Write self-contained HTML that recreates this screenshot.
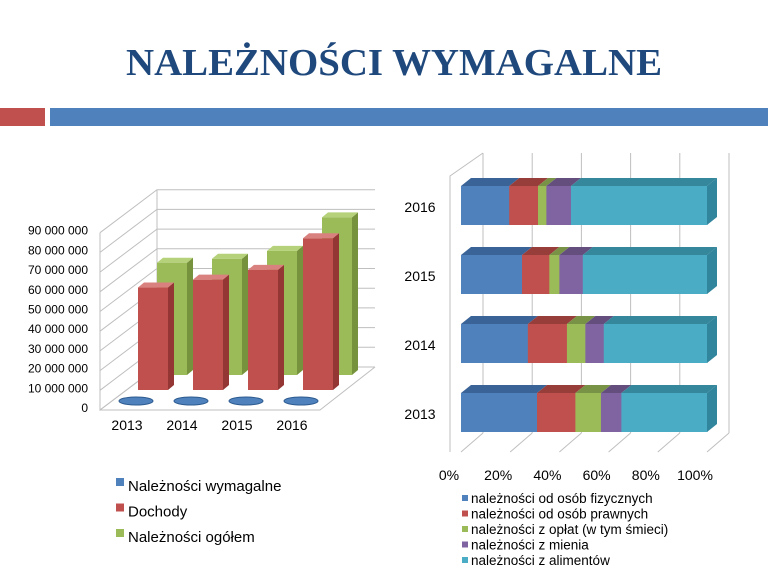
<!DOCTYPE html>
<html><head><meta charset="utf-8"><style>
body{margin:0;background:#fff}
svg{display:block;font-family:"Liberation Sans",sans-serif}
</style></head><body>
<svg id="s" width="768" height="576" viewBox="0 0 768 576">
<text x="394" y="75" text-anchor="middle" font-family="Liberation Serif,serif" font-weight="bold" font-size="38" fill="#1F497D" textLength="536" lengthAdjust="spacingAndGlyphs">NALEŻNOŚCI WYMAGALNE</text>
<rect x="0" y="108" width="45" height="18" fill="#C0504D"/>
<rect x="50" y="108" width="718" height="18" fill="#4F81BD"/>
<g id="left"></g>
<g id="right"></g>
</svg>
<script>
const years=["2013","2014","2015","2016"];
const wymagalne=[500000,500000,500000,500000];
const dochody=[52000000,56000000,61000000,77000000];
const ogolem=[57000000,59000000,63000000,80000000];
const yTicks=["0","10 000 000","20 000 000","30 000 000","40 000 000","50 000 000","60 000 000","70 000 000","80 000 000","90 000 000"];
const legendLeft=["Należności wymagalne","Dochody","Należności ogółem"];

const rYears=["2013","2014","2015","2016"];
const fizyczne=[30.9,27.2,24.8,19.6];
const prawne=[15.6,15.9,11.1,11.7];
const oplaty=[10.4,7.5,4.1,3.4];
const mienie=[8.3,7.5,9.5,10.0];
const alimenty=[34.8,42.0,50.5,55.3];
const xTicks=["0%","20%","40%","60%","80%","100%"];
const legendRight=["należności od osób fizycznych","należności od osób prawnych","należności z opłat (w tym śmieci)","należności z mienia","należności z alimentów"];

const NS="http://www.w3.org/2000/svg";
function el(p,t,a){const e=document.createElementNS(NS,t);for(const k in a)e.setAttribute(k,a[k]);p.appendChild(e);return e;}
const L=document.getElementById('left'),R=document.getElementById('right');
// left axes
const pxPer=19.7/10000000;
function ly(v,base){return base-v*pxPer;}
let e;
// walls
for(let i=0;i<10;i++){const y=367-i*19.7;
 e=el(L,'polyline',{points:`100,${y+43} 157,${y} 375,${y}`,fill:'none',stroke:'#BFBFBF','stroke-width':1});
 
 e=el(L,'text',{x:88,y:ly(i*10000000,408)+4,'text-anchor':'end','font-size':12,fill:'#000'});e.textContent=yTicks[i];
 }
e=el(L,'polyline',{points:`100,${367-9*19.7+43} 100,410 157,367 157,${367-9*19.7}`,fill:'none',stroke:'#BFBFBF'});

e=el(L,'polyline',{points:'100,410 320,410 375,367',fill:'none',stroke:'#BFBFBF'});

function col(x,w,base,v,front,top,side,name){
 const y=ly(v,base),d=6;
 const g=el(L,'g',{});
 el(g,'path',{d:`M${x+w},${y} l${d},-5 v${base-y} l-${d},5 z`,fill:side});
 el(g,'path',{d:`M${x},${y} l${d},-5 h${w} l-${d},5 z`,fill:top});
 el(g,'rect',{x:x,y:y,width:w,height:base-y,fill:front});
}
years.forEach((yr,i)=>{
 col(157+i*55,30,375,ogolem[i],'#9BBB59','#B5D27A','#76923C','bar-ogolem-'+yr);
 col(138+i*55,30,390,dochody[i],'#C0504D','#D9817E','#943634','bar-dochody-'+yr);
 e=el(L,'ellipse',{cx:136+i*55,cy:401,rx:17,ry:4,fill:'#4F81BD',stroke:'#2C5A8F'});
 
 e=el(L,'text',{x:127+i*55,y:430,'text-anchor':'middle','font-size':14});e.textContent=yr;
 
});
const lc=['#4F81BD','#C0504D','#9BBB59'];
legendLeft.forEach((t,i)=>{
 e=el(L,'rect',{x:116,y:482+i*25.5-4,width:8,height:8,fill:lc[i]});
 
 e=el(L,'text',{x:128,y:491+i*25.5,'font-size':15});e.textContent=t;
 
});
// right chart
const x0=461,xw=246;
function rx(p){return x0+p/100*xw;}
for(let i=0;i<6;i++){
 const gx=rx(i*20)+22;
 e=el(R,'line',{x1:gx,y1:153,x2:gx,y2:433,stroke:'#BFBFBF'});
 
 e=el(R,'line',{x1:gx,y1:433,x2:gx-22,y2:452,stroke:'#BFBFBF'});
 
 e=el(R,'text',{x:rx(i*20)-12,y:480,'text-anchor':'middle','font-size':14});e.textContent=xTicks[i];
 
}
e=el(R,'polyline',{points:'483,153 450,176 450,452',fill:'none',stroke:'#BFBFBF'});

const series=[fizyczne,prawne,oplaty,mienie,alimenty];
const fc=['#4F81BD','#C0504D','#9BBB59','#8064A2','#4BACC6'];
const tc=['#3A6397','#973D3A','#789346','#634E7E','#35879C'];
rYears.forEach((yr,i)=>{
 const by=393-i*69,h=39;
 let acc=0;
 const tot=series.reduce((s,a)=>s+a[i],0);
 series.forEach((a,k)=>{
  const p=a[i]/tot*100,xa=rx(acc),xb=rx(acc+p);
  const g=el(R,'g',{});
  el(g,'path',{d:`M${xa},${by} l10,-8 H${xb+10} l-10,8 z`,fill:tc[k]});
  el(g,'rect',{x:xa,y:by,width:xb-xa+0.5,height:h,fill:fc[k]});
  if(k==4)el(g,'path',{d:`M${xb},${by} l10,-8 v${h} l-10,8 z`,fill:'#31859C'});
  acc+=p;
 });
 e=el(R,'text',{x:420,y:by+26,'text-anchor':'middle','font-size':14});e.textContent=yr;
 
});
legendRight.forEach((t,i)=>{
 e=el(R,'rect',{x:462,y:495+i*15.5,width:6,height:6,fill:fc[i]});
 
 e=el(R,'text',{x:471,y:503+i*15.5,'font-size':13.5});e.textContent=t;
 
});
</script>
</body></html>
